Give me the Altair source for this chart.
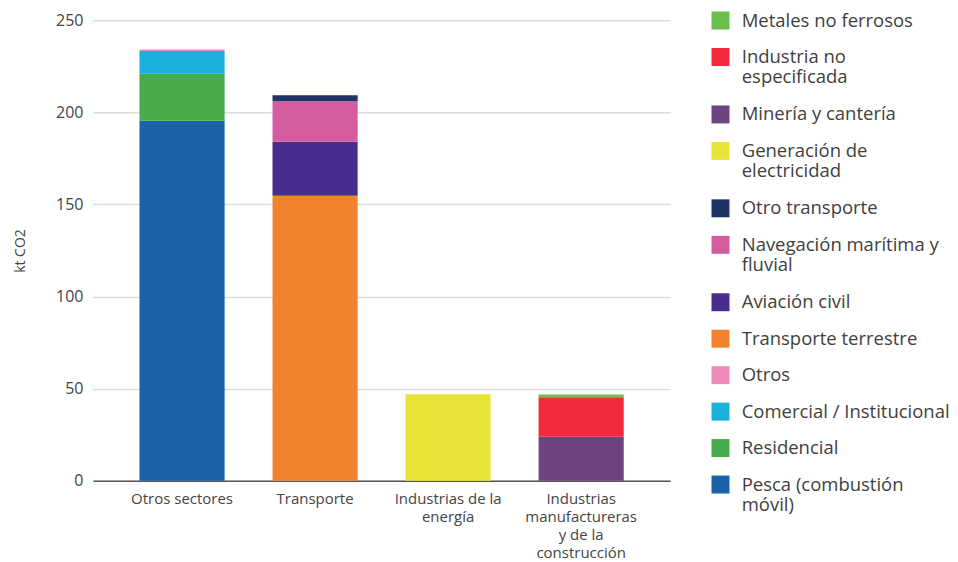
import altair as alt
import pandas as pd

sectors = [
    "Otros sectores",
    "Transporte",
    "Industrias de la\nenergía",
    "Industrias\nmanufactureras\ny de la\nconstrucción",
]

# legend order (top to bottom)
series = [
    "Metales no ferrosos",
    "Industria no\nespecificada",
    "Minería y cantería",
    "Generación de\nelectricidad",
    "Otro transporte",
    "Navegación marítima y\nfluvial",
    "Aviación civil",
    "Transporte terrestre",
    "Otros",
    "Comercial / Institucional",
    "Residencial",
    "Pesca (combustión\nmóvil)",
]
colors = [
    "#6abf4b", "#ef2b3c", "#6e4382", "#e8e337", "#1e3464", "#d45c9f",
    "#482d8e", "#f2832e", "#ee8bbb", "#1ab0dc", "#45ab4b", "#1a63a8",
]

# (series, sector, value in kt CO2)
series_sector = [
    "Otros sectores", "Otros sectores", "Otros sectores", "Otros sectores",
    "Transporte", "Transporte", "Transporte", "Transporte",
    "Industrias de la\nenergía",
    "Industrias\nmanufactureras\ny de la\nconstrucción",
    "Industrias\nmanufactureras\ny de la\nconstrucción",
    "Industrias\nmanufactureras\ny de la\nconstrucción",
]
series_stack = [
    "Pesca (combustión\nmóvil)", "Residencial", "Comercial / Institucional", "Otros",
    "Transporte terrestre", "Aviación civil", "Navegación marítima y\nfluvial", "Otro transporte",
    "Generación de\nelectricidad",
    "Minería y cantería", "Industria no\nespecificada", "Metales no ferrosos",
]
values = [195.5, 25.5, 12.3, 0.8, 154.7, 29.3, 22.1, 3.2, 47.0, 23.9, 21.5, 1.4]

df = pd.DataFrame({
    "sector": series_sector,
    "serie": series_stack,
    "valor": values,
})
df["orden"] = [len(series) - 1 - series.index(s) for s in df["serie"]]

FONT = "Open Sans"

chart = (
    alt.Chart(df)
    .mark_bar()
    .encode(
        x=alt.X(
            "sector:N",
            sort=sectors,
            title=None,
            scale=alt.Scale(paddingInner=0.36, paddingOuter=0.35),
            axis=alt.Axis(
                labelAngle=0,
                labelExpr="split(datum.label, '\\n')",
                labelFontSize=15,
                labelLineHeight=18,
                labelColor="#444444",
                labelPadding=11,
                ticks=False,
                domainColor="#555555",
                domainWidth=1.5,
                labelLimit=300,
            ),
        ),
        y=alt.Y(
            "valor:Q",
            stack="zero",
            title="kt CO2",
            scale=alt.Scale(domain=[0, 250]),
            axis=alt.Axis(
                values=[0, 50, 100, 150, 200, 250],
                domain=False,
                ticks=False,
                gridColor="#dddddd",
                gridWidth=1.5,
                labelFontSize=16,
                labelColor="#444444",
                labelPadding=10,
                titleFontSize=14,
                titleFontWeight="normal",
                titleColor="#444444",
                titlePadding=28,
            ),
        ),
        color=alt.Color(
            "serie:N",
            scale=alt.Scale(domain=series, range=colors),
            legend=alt.Legend(
                title=None,
                orient="none",
                legendX=619,
                legendY=-9,
                symbolType="square",
                symbolSize=324,
                symbolStrokeWidth=0,
                labelExpr="split(datum.label, '\\n')",
                labelFontSize=18.5,
                labelColor="#404040",
                labelLimit=400,
                labelOffset=12,
                rowPadding=17.5,
            ),
        ),
        order=alt.Order("orden:Q", sort="ascending"),
    )
    .properties(
        width=578,
        height=461,
        padding={"left": 5, "top": 3, "right": 0, "bottom": 0},
    )
    .configure(font=FONT)
    .configure_view(stroke=None)
    .configure_legend(labelFont=FONT)
    .configure_axis(labelFont=FONT, titleFont=FONT)
)

chart.save("out.html", embed_options={"renderer": "svg", "actions": False})
